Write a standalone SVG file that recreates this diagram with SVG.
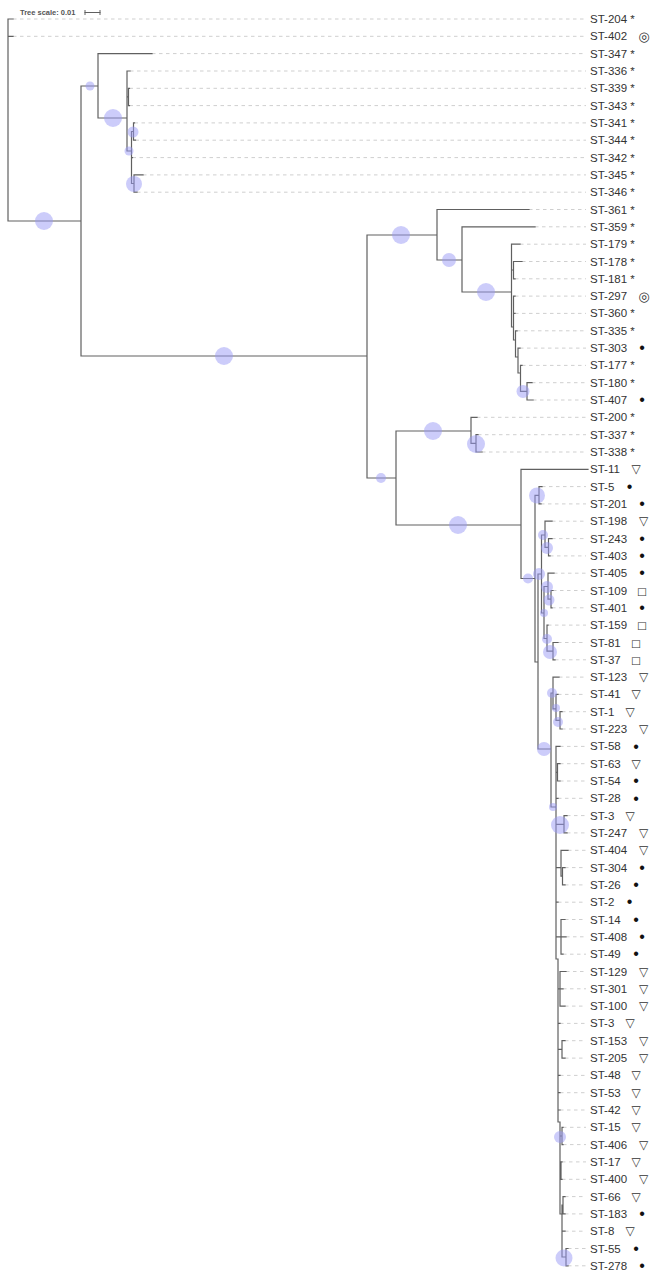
<svg xmlns="http://www.w3.org/2000/svg" width="651" height="1274" viewBox="0 0 651 1274">
<style>
.br{fill:none;stroke:#606060;stroke-width:1.2;stroke-linecap:square}
.ds{fill:none;stroke:#cfcfcf;stroke-width:1;stroke-dasharray:3.5 3.5}
.bs{fill:#9999f5;fill-opacity:0.5;stroke:none}
.lbl{font-family:"Liberation Sans",Arial,sans-serif;font-size:11.5px;fill:#333}
.sym{font-family:"DejaVu Sans",sans-serif;text-anchor:middle;fill:#333}
.tri{font-size:12px}
.sq{font-size:10.5px}
.cc{font-size:13px}
.dot{font-family:"Liberation Sans",Arial,sans-serif;font-size:16px;fill:#111}
.ts{font-family:"Liberation Sans",Arial,sans-serif;font-size:7.5px;font-weight:bold;fill:#555}
</style>
<rect width="651" height="1274" fill="#fff"/>
<g id="scale">
<text class="ts" x="20" y="15">Tree scale: 0.01</text>
<path class="br" style="stroke-width:1" d="M85 12.5H100M85 10.5V14.5M100 10.5V14.5"/>
</g>
<g id="connectors">
<path class="ds" d="M13 19H586M13 36.3H586M152 53.6H586M130 71H586M129.5 88.3H586M129.5 105.6H586M134.5 122.9H586M135.5 140.2H586M132.5 157.6H586M143 174.9H586M137 192.2H586M529 209.5H586M535 226.8H586M520 244.2H586M522 261.5H586M515 278.8H586M515 296.1H586M515 313.4H586M517 330.8H586M520 348.1H586M522 365.4H586M532 382.7H586M533 400H586M477 417.3H586M478 434.7H586M482 452H586M542 486.6H586M541 503.9H586M552 521.2H586M552 538.6H586M550 555.9H586M554 573.2H586M553 590.5H586M552 607.8H586M548 625.1H586M558 642.5H586M555 659.8H586M559 677.1H586M558 694.4H586M562 711.7H586M562 729H586M560 746.4H586M560 763.7H586M560 781H586M558 798.3H586M567 815.6H586M567 832.9H586M568 850.3H586M565 867.6H586M565 884.9H586M558 902.2H586M565 919.5H586M566 936.8H586M563 954.2H586M566 971.5H586M563 988.8H586M565 1006.1H586M560 1023.4H586M565 1040.7H586M565 1058.1H586M560 1075.4H586M560 1092.7H586M560 1110H586M563 1127.3H586M563 1144.6H586M562 1161.9H586M562 1179.3H586M565 1196.6H586M565 1213.9H586M565 1231.2H586M568 1248.5H586M568 1265.8H586"/>
<path class="br" d="
M8 19V221M8 19H13M8 36.3H13M8 221H81
M81 86V356M81 86H98M81 356H367
M98 53.6V118M98 53.6H152M98 118H127
M127 71V151M127 71H130M127 96.9H128.5M128.5 88.3V105.6M128.5 88.3H129.5M128.5 105.6H129.5M127 151H131.5
M131.5 131.5V183.5M131.5 131.5H133.5M131.5 157.6H132.5M131.5 183.5H134
M133.5 122.9V140.2M133.5 122.9H134.5M133.5 140.2H135.5
M134 174.9V192.2M134 174.9H143M134 192.2H137
M367 235V478M367 235H437M367 478H396
M437 209.5V260M437 209.5H529M437 260H462
M462 226.8V292M462 226.8H535M462 292H511.5
M511.5 244.2V327M511.5 244.2H520M511.5 270H513.5M511.5 327H513.5
M513.5 261.5V278.8M513.5 261.5H522M513.5 278.8H515
M513.5 296.1V340M513.5 296.1H515M513.5 313.4H515M513.5 340H515.5
M515.5 330.8V357M515.5 330.8H517M515.5 357H518
M518 348.1V373M518 348.1H520M518 373H520.5
M520.5 365.4V391.4M520.5 365.4H522M520.5 391.4H527
M527 382.7V400M527 382.7H532M527 400H533
M396 431V525M396 431H471M396 525H521
M471 417.3V443.4M471 417.3H477M471 443.4H476
M476 434.7V452M476 434.7H478M476 452H482
M521 469.3V578.5M521 469.3H588M521 578.5H535
M535 495.3V662M535 495.3H539M535 662H538
M539 486.6V503.9M539 486.6H542M539 503.9H541
M538 574V749M538 574H541.5M538 749H551
M541.5 535V613M541.5 535H545M541.5 613H544
M545 521.2V547.3M545 521.2H552M545 547.3H548.5
M548.5 538.6V555.9M548.5 538.6H552M548.5 555.9H550
M544 586.5V638.5M544 586.5H548M544 638.5H547
M548 573.2V599.2M548 573.2H554M548 599.2H551
M551 590.5V607.8M551 590.5H553M551 607.8H552
M547 625.1V651.2M547 625.1H548M547 651.2H553
M553 642.5V659.8M553 642.5H558M553 659.8H555
M551 693V807M551 693H553M551 807H556
M553 677.1V708.9M553 677.1H559M553 708.9H556
M556 694.4V720.4M556 694.4H558M556 720.4H560
M560 711.7V729M560 711.7H562M560 729H562
M556 746.4V959M556 746.4H560M556 772.4H557.5M556 798.3H558M556 824.3H564M556 867.6H561M556 902.2H558M556 936.8H561M556 959H558
M557.5 763.7V781M557.5 763.7H560M557.5 781H560
M564 815.6V832.9M564 815.6H567M564 832.9H567
M561 850.3V876.2M561 850.3H568M561 876.2H562.5
M562.5 867.6V884.9M562.5 867.6H565M562.5 884.9H565
M561 919.5V954.2M561 919.5H565M561 936.8H566M561 954.2H563
M558 959V1122M558 988.8H560M558 1023.4H560M558 1049.4H562M558 1075.4H560M558 1092.7H560M558 1110H560M558 1122H560
M560 971.5V1006.1M560 971.5H566M560 988.8H563M560 1006.1H565
M562 1040.7V1058.1M562 1040.7H565M562 1058.1H565
M560 1122V1214M560 1136H562M560 1170.6H561M560 1214H562
M562 1127.3V1144.6M562 1127.3H563M562 1144.6H563
M561 1161.9V1179.3M561 1161.9H562M561 1179.3H562
M562 1205.2V1257M562 1205.2H563M562 1231.2H565M562 1257H566
M563 1196.6V1213.9M563 1196.6H565M563 1213.9H565
M566 1248.5V1265.8M566 1248.5H568M566 1265.8H568"/>
</g>
<g id="support">
<circle class="bs" cx="44" cy="221" r="9"/>
<circle class="bs" cx="90" cy="86" r="4.5"/>
<circle class="bs" cx="224" cy="356" r="9"/>
<circle class="bs" cx="113" cy="118" r="9"/>
<circle class="bs" cx="129" cy="151" r="4.5"/>
<circle class="bs" cx="133" cy="132" r="5.5"/>
<circle class="bs" cx="134" cy="184" r="8"/>
<circle class="bs" cx="401" cy="235" r="9"/>
<circle class="bs" cx="381" cy="478" r="5"/>
<circle class="bs" cx="449" cy="260" r="7"/>
<circle class="bs" cx="486" cy="292" r="9"/>
<circle class="bs" cx="523" cy="391.4" r="6.5"/>
<circle class="bs" cx="433" cy="431" r="9"/>
<circle class="bs" cx="458" cy="525" r="9"/>
<circle class="bs" cx="476" cy="444" r="9"/>
<circle class="bs" cx="528" cy="578.5" r="5"/>
<circle class="bs" cx="537" cy="495.5" r="8"/>
<circle class="bs" cx="539" cy="574" r="6"/>
<circle class="bs" cx="544" cy="749" r="7"/>
<circle class="bs" cx="543" cy="535" r="5"/>
<circle class="bs" cx="547" cy="548" r="6"/>
<circle class="bs" cx="544" cy="613" r="4"/>
<circle class="bs" cx="547" cy="587" r="6"/>
<circle class="bs" cx="549" cy="600" r="5.5"/>
<circle class="bs" cx="547" cy="639" r="5"/>
<circle class="bs" cx="550" cy="652" r="7"/>
<circle class="bs" cx="552" cy="693" r="5"/>
<circle class="bs" cx="556" cy="708" r="4"/>
<circle class="bs" cx="558" cy="722" r="5"/>
<circle class="bs" cx="553" cy="807" r="4"/>
<circle class="bs" cx="560" cy="825" r="9"/>
<circle class="bs" cx="560" cy="1137" r="6"/>
<circle class="bs" cx="564" cy="1258" r="8.5"/>
</g>
<g id="leaves">
<g id="n1"><text class="lbl" x="590" y="23">ST-204 *</text></g>
<g id="n2"><text class="lbl" x="590" y="40.3">ST-402</text><text class="sym cc" x="644" y="40.8">◎</text></g>
<g id="n3"><text class="lbl" x="590" y="57.6">ST-347 *</text></g>
<g id="n4"><text class="lbl" x="590" y="75">ST-336 *</text></g>
<g id="n5"><text class="lbl" x="590" y="92.3">ST-339 *</text></g>
<g id="n6"><text class="lbl" x="590" y="109.6">ST-343 *</text></g>
<g id="n7"><text class="lbl" x="590" y="126.9">ST-341 *</text></g>
<g id="n8"><text class="lbl" x="590" y="144.2">ST-344 *</text></g>
<g id="n9"><text class="lbl" x="590" y="161.6">ST-342 *</text></g>
<g id="n10"><text class="lbl" x="590" y="178.9">ST-345 *</text></g>
<g id="n11"><text class="lbl" x="590" y="196.2">ST-346 *</text></g>
<g id="n12"><text class="lbl" x="590" y="213.5">ST-361 *</text></g>
<g id="n13"><text class="lbl" x="590" y="230.8">ST-359 *</text></g>
<g id="n14"><text class="lbl" x="590" y="248.2">ST-179 *</text></g>
<g id="n15"><text class="lbl" x="590" y="265.5">ST-178 *</text></g>
<g id="n16"><text class="lbl" x="590" y="282.8">ST-181 *</text></g>
<g id="n17"><text class="lbl" x="590" y="300.1">ST-297</text><text class="sym cc" x="644" y="300.6">◎</text></g>
<g id="n18"><text class="lbl" x="590" y="317.4">ST-360 *</text></g>
<g id="n19"><text class="lbl" x="590" y="334.8">ST-335 *</text></g>
<g id="n20"><text class="lbl" x="590" y="352.1">ST-303</text><text class="sym dot" x="642" y="353.3">•</text></g>
<g id="n21"><text class="lbl" x="590" y="369.4">ST-177 *</text></g>
<g id="n22"><text class="lbl" x="590" y="386.7">ST-180 *</text></g>
<g id="n23"><text class="lbl" x="590" y="404">ST-407</text><text class="sym dot" x="642" y="405.2">•</text></g>
<g id="n24"><text class="lbl" x="590" y="421.3">ST-200 *</text></g>
<g id="n25"><text class="lbl" x="590" y="438.7">ST-337 *</text></g>
<g id="n26"><text class="lbl" x="590" y="456">ST-338 *</text></g>
<g id="n27"><text class="lbl" x="590" y="473.3">ST-11</text><text class="sym tri" x="636" y="473.3">▽</text></g>
<g id="n28"><text class="lbl" x="590" y="490.6">ST-5</text><text class="sym dot" x="629.5" y="491.8">•</text></g>
<g id="n29"><text class="lbl" x="590" y="507.9">ST-201</text><text class="sym dot" x="642" y="509.1">•</text></g>
<g id="n30"><text class="lbl" x="590" y="525.2">ST-198</text><text class="sym tri" x="643.5" y="525.2">▽</text></g>
<g id="n31"><text class="lbl" x="590" y="542.6">ST-243</text><text class="sym dot" x="642" y="543.8">•</text></g>
<g id="n32"><text class="lbl" x="590" y="559.9">ST-403</text><text class="sym dot" x="642" y="561.1">•</text></g>
<g id="n33"><text class="lbl" x="590" y="577.2">ST-405</text><text class="sym dot" x="642" y="578.4">•</text></g>
<g id="n34"><text class="lbl" x="590" y="594.5">ST-109</text><text class="sym sq" x="642" y="594.5">□</text></g>
<g id="n35"><text class="lbl" x="590" y="611.8">ST-401</text><text class="sym dot" x="642" y="613">•</text></g>
<g id="n36"><text class="lbl" x="590" y="629.1">ST-159</text><text class="sym sq" x="642" y="629.1">□</text></g>
<g id="n37"><text class="lbl" x="590" y="646.5">ST-81</text><text class="sym sq" x="636" y="646.5">□</text></g>
<g id="n38"><text class="lbl" x="590" y="663.8">ST-37</text><text class="sym sq" x="636" y="663.8">□</text></g>
<g id="n39"><text class="lbl" x="590" y="681.1">ST-123</text><text class="sym tri" x="643.5" y="681.1">▽</text></g>
<g id="n40"><text class="lbl" x="590" y="698.4">ST-41</text><text class="sym tri" x="636" y="698.4">▽</text></g>
<g id="n41"><text class="lbl" x="590" y="715.7">ST-1</text><text class="sym tri" x="630" y="715.7">▽</text></g>
<g id="n42"><text class="lbl" x="590" y="733">ST-223</text><text class="sym tri" x="643.5" y="733">▽</text></g>
<g id="n43"><text class="lbl" x="590" y="750.4">ST-58</text><text class="sym dot" x="636" y="751.6">•</text></g>
<g id="n44"><text class="lbl" x="590" y="767.7">ST-63</text><text class="sym tri" x="636" y="767.7">▽</text></g>
<g id="n45"><text class="lbl" x="590" y="785">ST-54</text><text class="sym dot" x="636" y="786.2">•</text></g>
<g id="n46"><text class="lbl" x="590" y="802.3">ST-28</text><text class="sym dot" x="636" y="803.5">•</text></g>
<g id="n47"><text class="lbl" x="590" y="819.6">ST-3</text><text class="sym tri" x="630" y="819.6">▽</text></g>
<g id="n48"><text class="lbl" x="590" y="836.9">ST-247</text><text class="sym tri" x="643.5" y="836.9">▽</text></g>
<g id="n49"><text class="lbl" x="590" y="854.3">ST-404</text><text class="sym tri" x="643.5" y="854.3">▽</text></g>
<g id="n50"><text class="lbl" x="590" y="871.6">ST-304</text><text class="sym dot" x="642" y="872.8">•</text></g>
<g id="n51"><text class="lbl" x="590" y="888.9">ST-26</text><text class="sym dot" x="636" y="890.1">•</text></g>
<g id="n52"><text class="lbl" x="590" y="906.2">ST-2</text><text class="sym dot" x="629.5" y="907.4">•</text></g>
<g id="n53"><text class="lbl" x="590" y="923.5">ST-14</text><text class="sym dot" x="636" y="924.7">•</text></g>
<g id="n54"><text class="lbl" x="590" y="940.8">ST-408</text><text class="sym dot" x="642" y="942">•</text></g>
<g id="n55"><text class="lbl" x="590" y="958.2">ST-49</text><text class="sym dot" x="636" y="959.4">•</text></g>
<g id="n56"><text class="lbl" x="590" y="975.5">ST-129</text><text class="sym tri" x="643.5" y="975.5">▽</text></g>
<g id="n57"><text class="lbl" x="590" y="992.8">ST-301</text><text class="sym tri" x="643.5" y="992.8">▽</text></g>
<g id="n58"><text class="lbl" x="590" y="1010.1">ST-100</text><text class="sym tri" x="643.5" y="1010.1">▽</text></g>
<g id="n59"><text class="lbl" x="590" y="1027.4">ST-3</text><text class="sym tri" x="630" y="1027.4">▽</text></g>
<g id="n60"><text class="lbl" x="590" y="1044.7">ST-153</text><text class="sym tri" x="643.5" y="1044.7">▽</text></g>
<g id="n61"><text class="lbl" x="590" y="1062.1">ST-205</text><text class="sym tri" x="643.5" y="1062.1">▽</text></g>
<g id="n62"><text class="lbl" x="590" y="1079.4">ST-48</text><text class="sym tri" x="636" y="1079.4">▽</text></g>
<g id="n63"><text class="lbl" x="590" y="1096.7">ST-53</text><text class="sym tri" x="636" y="1096.7">▽</text></g>
<g id="n64"><text class="lbl" x="590" y="1114">ST-42</text><text class="sym tri" x="636" y="1114">▽</text></g>
<g id="n65"><text class="lbl" x="590" y="1131.3">ST-15</text><text class="sym tri" x="636" y="1131.3">▽</text></g>
<g id="n66"><text class="lbl" x="590" y="1148.6">ST-406</text><text class="sym tri" x="643.5" y="1148.6">▽</text></g>
<g id="n67"><text class="lbl" x="590" y="1165.9">ST-17</text><text class="sym tri" x="636" y="1165.9">▽</text></g>
<g id="n68"><text class="lbl" x="590" y="1183.3">ST-400</text><text class="sym tri" x="643.5" y="1183.3">▽</text></g>
<g id="n69"><text class="lbl" x="590" y="1200.6">ST-66</text><text class="sym tri" x="636" y="1200.6">▽</text></g>
<g id="n70"><text class="lbl" x="590" y="1217.9">ST-183</text><text class="sym dot" x="642" y="1219.1">•</text></g>
<g id="n71"><text class="lbl" x="590" y="1235.2">ST-8</text><text class="sym tri" x="630" y="1235.2">▽</text></g>
<g id="n72"><text class="lbl" x="590" y="1252.5">ST-55</text><text class="sym dot" x="636" y="1253.7">•</text></g>
<g id="n73"><text class="lbl" x="590" y="1269.8">ST-278</text><text class="sym dot" x="642" y="1271">•</text></g>
</g>
</svg>
